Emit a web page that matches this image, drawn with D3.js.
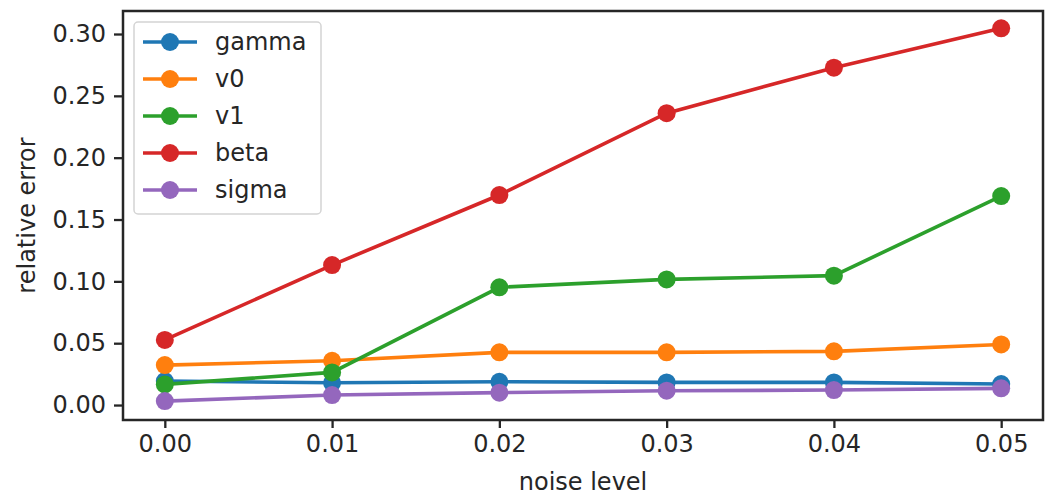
<!DOCTYPE html>
<html>
<head>
<meta charset="utf-8">
<script src="https://cdn.jsdelivr.net/npm/d3@7"></script>
<style>
  body { margin: 0; background: #fff; }
  text { font-family: "DejaVu Sans", sans-serif; fill: #262626; }
</style>
</head>
<body>
<div id="chart"></div>
<script>
// data
const noise = [0.00, 0.01, 0.02, 0.03, 0.04, 0.05]
const gamma = [0.0194, 0.0180, 0.0188, 0.0183, 0.0183, 0.0170]
const v0 = [0.0323, 0.0358, 0.0426, 0.0426, 0.0434, 0.0490]
const v1 = [0.0167, 0.0264, 0.0952, 0.1016, 0.1046, 0.1690]
const beta = [0.0526, 0.1132, 0.1698, 0.2360, 0.2728, 0.3046]
const sigma = [0.0032, 0.0081, 0.0100, 0.0116, 0.0121, 0.0135]
const seriesNames = ["gamma", "v0", "v1", "beta", "sigma"]
const seriesValues = [gamma, v0, v1, beta, sigma]
const colors = ["#1f77b4", "#ff7f0e", "#2ca02c", "#d62728", "#9467bd"]
const xTicks = [0, 0.01, 0.02, 0.03, 0.04, 0.05]
const yTicks = [0, 0.05, 0.10, 0.15, 0.20, 0.25, 0.30]

const width = 1053
const height = 498
const margin = {left: 123, right: 10, top: 11, bottom: 78}
const fontSize = "24px"

const svg = d3.select("#chart")
  .append("svg")
  .attr("width", width)
  .attr("height", height)

const x = d3.scaleLinear()
  .domain([-0.0025, 0.0525])
  .range([margin.left, width - margin.right])

const y = d3.scaleLinear()
  .domain([-0.0121, 0.3186])
  .range([height - margin.bottom, margin.top])

// axes
const xAxis = svg.append("g")
  .attr("transform", `translate(0,${height - margin.bottom})`)
  .call(d3.axisBottom(x).tickValues(xTicks).tickFormat(d3.format(".2f")).tickSize(8).tickPadding(7))
const yAxis = svg.append("g")
  .attr("transform", `translate(${margin.left},0)`)
  .call(d3.axisLeft(y).tickValues(yTicks).tickFormat(d3.format(".2f")).tickSize(9).tickPadding(8))

;[xAxis, yAxis].forEach(a => {
  a.attr("font-size", null).attr("font-family", null)
  a.select(".domain").remove()
  a.selectAll(".tick line").attr("stroke", "#262626").attr("stroke-width", 2.3)
  a.selectAll(".tick text").style("font-size", fontSize).attr("fill", "#262626")
})

// lines + markers
const line = d3.line()
  .x((d, i) => x(noise[i]))
  .y(d => y(d))

seriesValues.forEach((vals, k) => {
  svg.append("path")
    .datum(vals)
    .attr("d", line)
    .attr("fill", "none")
    .attr("stroke", colors[k])
    .attr("stroke-width", 3.6)
  svg.append("g")
    .selectAll("circle")
    .data(vals)
    .join("circle")
      .attr("cx", (d, i) => x(noise[i]))
      .attr("cy", d => y(d))
      .attr("r", 9)
      .attr("fill", colors[k])
})

// frame
svg.append("rect")
  .attr("x", margin.left)
  .attr("y", margin.top)
  .attr("width", width - margin.left - margin.right)
  .attr("height", height - margin.top - margin.bottom)
  .attr("fill", "none")
  .attr("stroke", "#262626")
  .attr("stroke-width", 2.5)

// axis labels
svg.append("text")
  .attr("x", (x.range()[0] + x.range()[1]) / 2)
  .attr("y", 490)
  .attr("text-anchor", "middle")
  .style("font-size", fontSize)
  .text("noise level")

svg.append("text")
  .attr("transform", `translate(35,${(y.range()[0] + y.range()[1]) / 2}) rotate(-90)`)
  .attr("text-anchor", "middle")
  .style("font-size", fontSize)
  .text("relative error")

// legend
const legend = svg.append("g")
legend.append("rect")
  .attr("x", 134)
  .attr("y", 22)
  .attr("width", 187)
  .attr("height", 192)
  .attr("rx", 4)
  .attr("fill", "#fff")
  .attr("fill-opacity", 0.8)
  .attr("stroke", "#d4d4d4")
  .attr("stroke-width", 1.5)

seriesNames.forEach((name, k) => {
  const ly = 42 + k * 37
  legend.append("line")
    .attr("x1", 143).attr("x2", 197)
    .attr("y1", ly).attr("y2", ly)
    .attr("stroke", colors[k])
    .attr("stroke-width", 3.6)
  legend.append("circle")
    .attr("cx", 170).attr("cy", ly)
    .attr("r", 9)
    .attr("fill", colors[k])
  legend.append("text")
    .attr("x", 215)
    .attr("y", ly + 8)
    .style("font-size", fontSize)
    .text(name)
})
</script>
</body>
</html>
